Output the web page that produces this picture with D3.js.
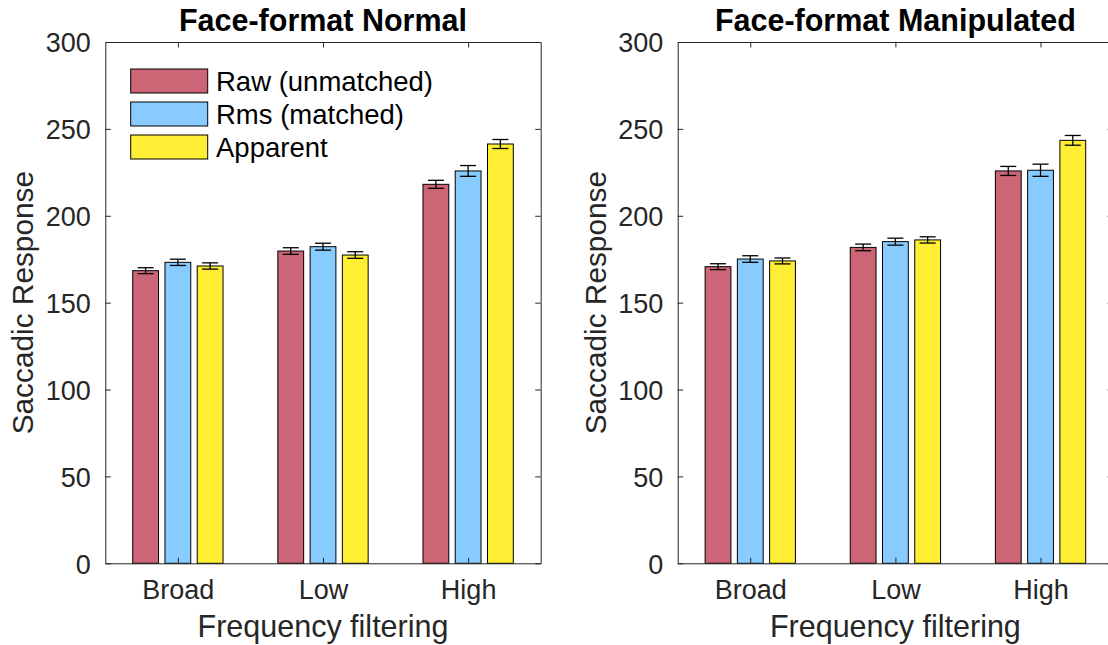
<!DOCTYPE html>
<html>
<head>
<meta charset="utf-8">
<script src="https://cdn.jsdelivr.net/npm/d3@7/dist/d3.min.js"></script>
<style>
  html, body { margin: 0; padding: 0; background: #fff; }
  svg { display: block; }
  text { font-family: "Liberation Sans", Arial, Helvetica, sans-serif; fill: #262626; }
</style>
</head>
<body>
<svg id="chart" width="1108" height="645"></svg>
<script>
// ---- data ----
const categories = ["Broad", "Low", "High"];
const seriesNames = ["Raw (unmatched)", "Rms (matched)", "Apparent"];
const seriesColors = ["#CC6677", "#88CCFF", "#FFEE33"];
const yTicks = [0, 50, 100, 150, 200, 250, 300];
const panelTitles = ["Face-format Normal", "Face-format Manipulated"];

const normalRaw = [168.4, 179.7, 218.1];
const normalRms = [173.2, 182.2, 225.8];
const normalApparent = [171.1, 177.4, 241.3];
const normalRawErr = [1.7, 1.9, 2.3];
const normalRmsErr = [1.8, 2.0, 3.1];
const normalApparentErr = [1.8, 1.9, 2.6];

const manipRaw = [170.7, 181.8, 225.8];
const manipRms = [175.1, 185.1, 226.2];
const manipApparent = [174.0, 186.1, 243.4];
const manipRawErr = [1.7, 1.9, 2.6];
const manipRmsErr = [1.9, 2.0, 3.5];
const manipApparentErr = [1.7, 1.8, 2.8];

const panels = [
  { title: panelTitles[0], values: [normalRaw, normalRms, normalApparent],
    errs: [normalRawErr, normalRmsErr, normalApparentErr], x0: 105.3, x1: 540.7, legend: true },
  { title: panelTitles[1], values: [manipRaw, manipRms, manipApparent],
    errs: [manipRawErr, manipRmsErr, manipApparentErr], x0: 677.7, x1: 1113.1, legend: false }
];

const svg = d3.select("#chart");
const yTop = 42, yBot = 563.3;
const axisColor = "#262626";
const tickLen = 5.5;

// MATLAB grouped bar geometry (in data units)
const nS = seriesNames.length;
const groupWidth = Math.min(0.8, nS / (nS + 1.5));
const barW = 0.8 * groupWidth / nS;

panels.forEach(p => {
  const g = svg.append("g");
  const x = d3.scaleLinear().domain([0.5, 3.5]).range([p.x0, p.x1]);
  const y = d3.scaleLinear().domain([0, 300]).range([yBot, yTop]);

  // bars
  p.values.forEach((vals, s) => {
    const off = (s - (nS - 1) / 2) * groupWidth / nS;
    g.selectAll(null).data(vals).enter().append("rect")
      .attr("x", (d, i) => x(i + 1 + off - barW / 2))
      .attr("width", x(barW) - x(0))
      .attr("y", d => y(d))
      .attr("height", d => y(0) - y(d))
      .attr("fill", seriesColors[s])
      .attr("stroke", "#000")
      .attr("stroke-width", 1);
  });

  // error bars
  const capHalf = 8;
  p.values.forEach((vals, s) => {
    const off = (s - (nS - 1) / 2) * groupWidth / nS;
    const errs = p.errs[s];
    vals.forEach((v, i) => {
      const cx = x(i + 1 + off);
      const e = errs[i];
      const eg = g.append("g").attr("stroke", "#000").attr("stroke-width", 1.3);
      eg.append("line").attr("x1", cx).attr("x2", cx).attr("y1", y(v - e)).attr("y2", y(v + e));
      eg.append("line").attr("x1", cx - capHalf).attr("x2", cx + capHalf).attr("y1", y(v - e)).attr("y2", y(v - e));
      eg.append("line").attr("x1", cx - capHalf).attr("x2", cx + capHalf).attr("y1", y(v + e)).attr("y2", y(v + e));
    });
  });

  // axes
  const xAxisB = d3.axisBottom(x).tickValues([1, 2, 3]).tickFormat((d) => categories[d - 1])
    .tickSizeInner(-tickLen).tickSizeOuter(0).tickPadding(16);
  const gxb = g.append("g").attr("transform", `translate(0,${yBot})`).call(xAxisB);
  gxb.selectAll("text").attr("font-size", 27).attr("dy", null).attr("y", 36);

  const xAxisT = d3.axisTop(x).tickValues([1, 2, 3]).tickFormat("")
    .tickSizeInner(-tickLen).tickSizeOuter(0);
  g.append("g").attr("transform", `translate(0,${yTop})`).call(xAxisT);

  const yAxisL = d3.axisLeft(y).tickValues(yTicks).tickFormat(d3.format("d"))
    .tickSizeInner(-tickLen).tickSizeOuter(0).tickPadding(20);
  const gyl = g.append("g").attr("transform", `translate(${p.x0},0)`).call(yAxisL);
  gyl.selectAll("text").attr("font-size", 27).attr("x", -14.5).attr("dy", "0.36em");

  const yAxisR = d3.axisRight(y).tickValues(yTicks).tickFormat("")
    .tickSizeInner(-tickLen).tickSizeOuter(0);
  g.append("g").attr("transform", `translate(${p.x1},0)`).call(yAxisR);

  g.selectAll(".domain, .tick line").attr("stroke", axisColor).attr("stroke-width", 1);
  g.selectAll(".tick text").attr("fill", axisColor).attr("font-family", "'Liberation Sans', Arial, Helvetica, sans-serif");

  // titles and labels
  const cx = (p.x0 + p.x1) / 2;
  g.append("text").attr("x", cx).attr("y", 31).attr("text-anchor", "middle")
    .attr("font-size", 30.5).attr("font-weight", "bold").style("fill", "#000").text(p.title);
  g.append("text").attr("x", cx).attr("y", 636.5).attr("text-anchor", "middle")
    .attr("font-size", 30.5).text("Frequency filtering");
  g.append("text")
    .attr("transform", `translate(${p.x0 - 72},${(yTop + yBot) / 2}) rotate(-90)`)
    .attr("text-anchor", "middle").attr("font-size", 29.8).text("Saccadic Response");

  // legend
  if (p.legend) {
    const lx = 130.7, ly0 = 69, rowH = 33, pw = 77, ph = 24;
    seriesNames.forEach((name, s) => {
      const ly = ly0 + s * rowH;
      g.append("rect").attr("x", lx).attr("y", ly).attr("width", pw).attr("height", ph)
        .attr("fill", seriesColors[s]).attr("stroke", "#000").attr("stroke-width", 1);
      g.append("text").attr("x", 216).attr("y", ly + ph / 2 + 9.5)
        .attr("font-size", 27.5).style("fill", "#000").text(name);
    });
  }
});
</script>
</body>
</html>
